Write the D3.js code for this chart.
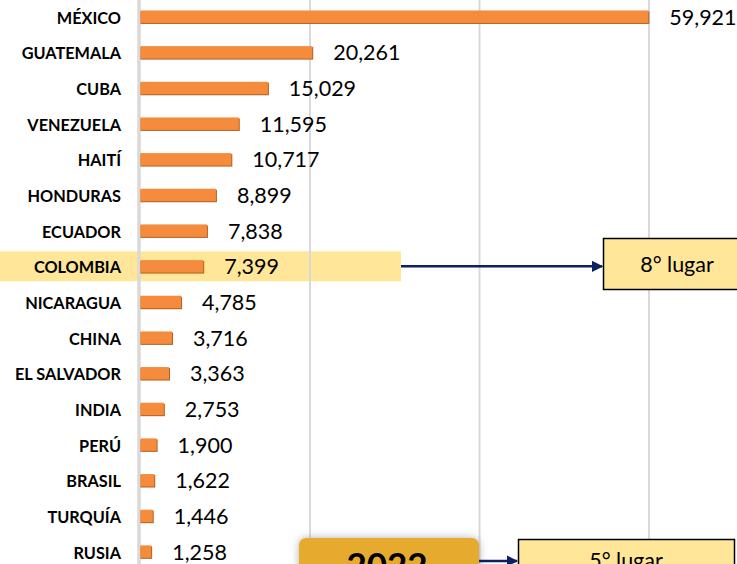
<!DOCTYPE html>
<html lang="es">
<head>
    <meta charset="UTF-8">
    <script src="https://d3js.org/d3.v7.min.js"></script>
    <style>
        body {
            margin: 0;
            background-color: #ffffff;
            overflow: hidden;
        }
        svg {
            display: block;
        }
        .label {
            font-family: 'Lato';
            font-weight: 700;
            font-size: 16.3px;
            fill: #000;
        }
        .value {
            font-family: 'Lato';
            font-size: 21.5px;
            fill: #000;
        }
    </style>
</head>
<body>
    <svg id="chart"></svg>

    <script>
        const width = 737;
        const height = 564;

        // Data
        const countries = ["MÉXICO", "GUATEMALA", "CUBA", "VENEZUELA", "HAITÍ", "HONDURAS", "ECUADOR", "COLOMBIA",
            "NICARAGUA", "CHINA", "EL SALVADOR", "INDIA", "PERÚ", "BRASIL", "TURQUÍA", "RUSIA"];
        const values = [59921, 20261, 15029, 11595, 10717, 8899, 7838, 7399,
            4785, 3716, 3363, 2753, 1900, 1622, 1446, 1258];
        const gridTicks = [0, 20000, 40000, 60000];
        const highlight = "COLOMBIA";
        const rankText = "8° lugar";
        const yearText = "2022";
        const yearRankText = "5° lugar";

        const rows = countries.map((c, i) => ({ country: c, value: values[i] }));

        const svg = d3.select("#chart")
            .attr("width", width)
            .attr("height", height);

        const defs = svg.append("defs");
        defs.append("marker")
            .attr("id", "arrow")
            .attr("viewBox", "0 0 10 10")
            .attr("refX", 9)
            .attr("refY", 5)
            .attr("markerWidth", 4.5)
            .attr("markerHeight", 4.5)
            .attr("markerUnits", "strokeWidth")
            .attr("orient", "auto")
            .append("path")
            .attr("d", "M0,0 L10,5 L0,10 z")
            .attr("fill", "#0b2160");

        const shadow = defs.append("filter")
            .attr("id", "shadow")
            .attr("x", "-20%").attr("y", "-40%")
            .attr("width", "140%").attr("height", "180%");
        shadow.append("feDropShadow")
            .attr("dx", 0).attr("dy", 0)
            .attr("stdDeviation", 4)
            .attr("flood-color", "#808080")
            .attr("flood-opacity", 0.6);

        // scales
        const x = d3.scaleLinear()
            .domain([0, 60000])
            .range([140.5, 649]);

        const step = 35.66;
        const y = d3.scaleBand()
            .domain(countries)
            .range([16.7 - step / 2, 16.7 - step / 2 + step * countries.length])
            .paddingInner(0.65)
            .paddingOuter(0.325);

        // highlighted row
        const hy = y(highlight) + y.bandwidth() / 2;
        svg.append("rect")
            .attr("x", 0)
            .attr("y", hy - 15)
            .attr("width", 401)
            .attr("height", 30)
            .attr("fill", "#ffe699");

        // gridlines
        svg.append("g")
            .selectAll("line")
            .data(gridTicks.slice(1))
            .join("line")
            .attr("x1", d => x(d))
            .attr("x2", d => x(d))
            .attr("y1", 0)
            .attr("y2", height)
            .attr("stroke", "#d9d9d9")
            .attr("stroke-width", 2);

        // axis line
        svg.append("line")
            .attr("x1", x(0) - 1.5)
            .attr("x2", x(0) - 1.5)
            .attr("y1", 0)
            .attr("y2", height)
            .attr("stroke", "#d9d9d9")
            .attr("stroke-width", 3.5);

        // bars: darker edge underneath, then the bar
        const bars = svg.append("g");
        bars.selectAll(".edge")
            .data(rows)
            .join("rect")
            .attr("class", "edge")
            .attr("x", x(0))
            .attr("y", d => y(d.country) + 1)
            .attr("width", d => x(d.value) - x(0) + 1)
            .attr("height", y.bandwidth())
            .attr("fill", "#b4611f");
        bars.selectAll(".bar")
            .data(rows)
            .join("rect")
            .attr("class", "bar")
            .attr("x", x(0))
            .attr("y", d => y(d.country))
            .attr("width", d => x(d.value) - x(0))
            .attr("height", y.bandwidth())
            .attr("fill", "#f58b3c");

        // category labels
        svg.append("g")
            .selectAll("text")
            .data(rows)
            .join("text")
            .attr("class", "label")
            .attr("x", 121)
            .attr("y", d => y(d.country) + y.bandwidth() / 2 + 7)
            .attr("text-anchor", "end")
            .text(d => d.country);

        // value labels
        svg.append("g")
            .selectAll("text")
            .data(rows)
            .join("text")
            .attr("class", "value")
            .attr("x", d => x(d.value) + 21)
            .attr("y", d => y(d.country) + y.bandwidth() / 2 + 8)
            .text(d => d3.format(",")(d.value));

        // arrow + callout for Colombia
        svg.append("line")
            .attr("x1", 401)
            .attr("x2", 602)
            .attr("y1", hy)
            .attr("y2", hy)
            .attr("stroke", "#0b2160")
            .attr("stroke-width", 2.5)
            .attr("marker-end", "url(#arrow)");

        svg.append("rect")
            .attr("x", 603.5)
            .attr("y", 238.5)
            .attr("width", 150)
            .attr("height", 51)
            .attr("fill", "#ffe699")
            .attr("stroke", "#000")
            .attr("stroke-width", 1.5);
        svg.append("text")
            .attr("class", "value")
            .attr("x", 677)
            .attr("y", 272)
            .attr("text-anchor", "middle")
            .text(rankText);

        // year box at the bottom
        svg.append("rect")
            .attr("x", 299)
            .attr("y", 538)
            .attr("width", 180)
            .attr("height", 60)
            .attr("rx", 7)
            .attr("fill", "#e6ab2e")
            .attr("filter", "url(#shadow)");
        svg.append("text")
            .attr("x", 387)
            .attr("y", 578)
            .attr("text-anchor", "middle")
            .style("font-family", "Lato")
            .style("font-weight", 700)
            .style("font-size", "35px")
            .text(yearText);

        svg.append("line")
            .attr("x1", 479)
            .attr("x2", 517)
            .attr("y1", 561)
            .attr("y2", 561)
            .attr("stroke", "#0b2160")
            .attr("stroke-width", 2.5)
            .attr("marker-end", "url(#arrow)");

        svg.append("rect")
            .attr("x", 518.5)
            .attr("y", 539.5)
            .attr("width", 216)
            .attr("height", 50)
            .attr("fill", "#ffe699")
            .attr("stroke", "#000")
            .attr("stroke-width", 1.5);
        svg.append("text")
            .attr("class", "value")
            .attr("x", 626)
            .attr("y", 568)
            .attr("text-anchor", "middle")
            .text(yearRankText);
    </script>
</body>
</html>
